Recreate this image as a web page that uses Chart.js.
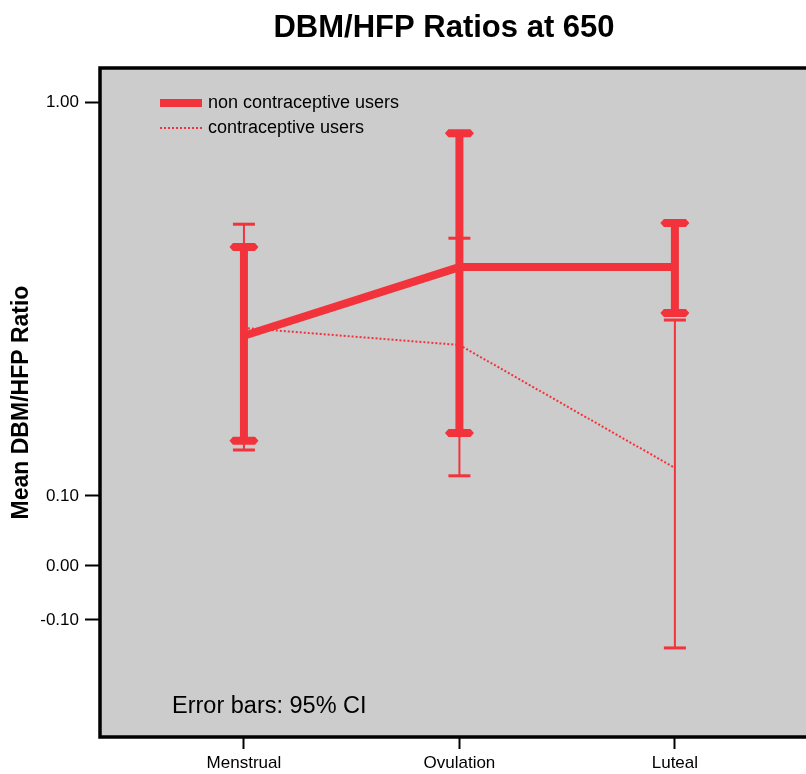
<!DOCTYPE html>
<html>
<head>
<meta charset="utf-8">
<script src="https://cdn.jsdelivr.net/npm/chart.js@4.4.1/dist/chart.umd.min.js"></script>
<style>
html, body { margin: 0; padding: 0; background: #fff; overflow: hidden; }
#wrap { width: 806px; height: 774px; overflow: hidden; }
</style>
</head>
<body>
<div id="wrap"><canvas id="chart" width="888" height="774"></canvas></div>
<script>
let phases = ['Menstrual', 'Ovulation', 'Luteal'];
let yTicks = [-0.10, 0.00, 0.10, 1.00];

// non contraceptive users: mean and 95% CI
let nonUsersMean = [0.466, 0.623, 0.623];
let nonUsersLow  = [0.226, 0.244, 0.518];
let nonUsersHigh = [0.669, 0.929, 0.724];

// contraceptive users: mean and 95% CI
let usersMean = [0.484, 0.445, 0.164];
let usersLow  = [0.205, 0.146, -0.152];
let usersHigh = [0.721, 0.689, 0.502];

const RED = 'rgb(242,51,60)';
const FONT = '"Liberation Sans", Arial, sans-serif';

// axis with uneven spacing between its ticks (as in the original figure)
class BrokenScale extends Chart.LinearScale {
    fwd(v) {
        let vs = this.options.knots.values, ts = this.options.knots.stops;
        let i = 0;
        if (v >= vs[vs.length - 1]) i = vs.length - 2;
        else if (v > vs[0]) { while (v > vs[i + 1]) i++; }
        return ts[i] + (v - vs[i]) * (ts[i + 1] - ts[i]) / (vs[i + 1] - vs[i]);
    }
    inv(t) {
        let vs = this.options.knots.values, ts = this.options.knots.stops;
        let i = 0;
        if (t >= ts[ts.length - 1]) i = ts.length - 2;
        else if (t > ts[0]) { while (t > ts[i + 1]) i++; }
        return vs[i] + (t - ts[i]) * (vs[i + 1] - vs[i]) / (ts[i + 1] - ts[i]);
    }
    buildTicks() {
        return yTicks.map(v => ({ value: v }));
    }
    getPixelForValue(v) {
        let t0 = this.fwd(this.min), t1 = this.fwd(this.max);
        return this.getPixelForDecimal((this.fwd(v) - t0) / (t1 - t0));
    }
    getValueForPixel(p) {
        let t0 = this.fwd(this.min), t1 = this.fwd(this.max);
        return this.inv(t0 + this.getDecimalForPixel(p) * (t1 - t0));
    }
}
BrokenScale.id = 'broken';
BrokenScale.defaults = {};
Chart.register(BrokenScale);

let plotFrame = {
    id: 'plotFrame',
    beforeDraw(chart) {
        let a = chart.chartArea, ctx = chart.ctx;
        ctx.save();
        ctx.fillStyle = '#cccccc';
        ctx.fillRect(a.left, a.top, a.right - a.left, a.bottom - a.top);
        ctx.restore();
    },
    afterDraw(chart) {
        let a = chart.chartArea, ctx = chart.ctx;
        ctx.save();
        ctx.strokeStyle = '#000';
        ctx.lineWidth = 3.5;
        ctx.strokeRect(a.left, a.top, a.right - a.left - 4, a.bottom - a.top);

        // legend
        let ds = chart.data.datasets;
        let rows = [103, 128];
        ds.forEach((d, i) => {
            ctx.beginPath();
            ctx.strokeStyle = d.borderColor;
            ctx.lineWidth = d.borderWidth;
            ctx.setLineDash(d.borderDash || []);
            ctx.moveTo(160, rows[i]);
            ctx.lineTo(202, rows[i]);
            ctx.stroke();
            ctx.setLineDash([]);
            ctx.fillStyle = '#000';
            ctx.font = '18px ' + FONT;
            ctx.textBaseline = 'middle';
            ctx.fillText(d.label, 208, rows[i]);
        });

        ctx.font = '23.5px ' + FONT;
        ctx.textBaseline = 'alphabetic';
        ctx.fillText('Error bars: 95% CI', 172, 713);
        ctx.restore();
    }
};

let errorBars = {
    id: 'errorBars',
    afterDatasetsDraw(chart) {
        let ctx = chart.ctx, xs = chart.scales.x, ys = chart.scales.y;
        ctx.save();
        ctx.fillStyle = RED;
        ctx.strokeStyle = RED;
        chart.data.datasets.forEach(d => {
            d.ciLow.forEach((lo, i) => {
                let px = xs.getPixelForValue(i);
                let top = ys.getPixelForValue(d.ciHigh[i]);
                let bot = ys.getPixelForValue(lo);
                ctx.beginPath();
                ctx.lineWidth = d.stem;
                ctx.moveTo(px, top);
                ctx.lineTo(px, bot);
                ctx.stroke();
                [top, bot].forEach(cy => {
                    if (d.stem > 4) {
                        ctx.beginPath();
                        ctx.moveTo(px - 14.5, cy);
                        ctx.lineTo(px - 11, cy - 4);
                        ctx.lineTo(px + 11, cy - 4);
                        ctx.lineTo(px + 14.5, cy);
                        ctx.lineTo(px + 11, cy + 4);
                        ctx.lineTo(px - 11, cy + 4);
                        ctx.closePath();
                        ctx.fill();
                    } else {
                        ctx.fillRect(px - 11, cy - 1.5, 22, 3);
                    }
                });
            });
        });
        ctx.restore();
    }
};

function generateChart() {
    let context = document.getElementById('chart').getContext('2d');
    return new Chart(context, {
        type: 'line',
        data: {
            datasets: [{
                label: 'non contraceptive users',
                data: nonUsersMean.map((v, i) => ({ x: i, y: v })),
                ciLow: nonUsersLow,
                ciHigh: nonUsersHigh,
                stem: 8,
                borderColor: RED,
                borderWidth: 8,
                pointRadius: 0,
                tension: 0
            }, {
                label: 'contraceptive users',
                data: usersMean.map((v, i) => ({ x: i, y: v })),
                ciLow: usersLow,
                ciHigh: usersHigh,
                stem: 2,
                borderColor: RED,
                borderWidth: 2,
                borderDash: [2, 2],
                pointRadius: 0,
                tension: 0
            }]
        },
        options: {
            responsive: false,
            animation: false,
            events: [],
            layout: { padding: 0 },
            plugins: {
                legend: { display: false },
                tooltip: { enabled: false },
                title: {
                    display: true,
                    text: 'DBM/HFP Ratios at 650',
                    color: '#000',
                    font: { family: FONT, size: 31, weight: 'bold', lineHeight: 1.2 },
                    padding: { top: 10, bottom: 20.8 }
                }
            },
            scales: {
                x: {
                    type: 'linear',
                    min: -0.668,
                    max: 2.989,
                    afterBuildTicks: s => { s.ticks = phases.map((p, i) => ({ value: i })); },
                    afterFit: s => { s.height = 37; },
                    ticks: {
                        callback: v => phases[v],
                        color: '#000',
                        padding: 4,
                        font: { family: FONT, size: 17 },
                        maxRotation: 0
                    },
                    grid: { drawOnChartArea: false, tickLength: 12, tickWidth: 2, tickColor: '#000' },
                    border: { display: false }
                },
                y: {
                    type: 'broken',
                    min: -0.317,
                    max: 1.078,
                    knots: { values: [-0.1, 0, 0.1, 1.0], stops: [0, 54, 124, 518] },
                    afterFit: s => { s.width = 100; },
                    ticks: {
                        callback: v => v.toFixed(2),
                        color: '#000',
                        padding: 6,
                        font: { family: FONT, size: 17 }
                    },
                    grid: { drawOnChartArea: false, tickLength: 15, tickWidth: 2, tickColor: '#000' },
                    border: { display: false },
                    title: {
                        display: true,
                        text: 'Mean DBM/HFP Ratio',
                        color: '#000',
                        font: { family: FONT, size: 23, weight: 'bold', lineHeight: 1.2 },
                        padding: { top: 8, bottom: 0 }
                    }
                }
            }
        },
        plugins: [plotFrame, errorBars]
    });
}

generateChart();
</script>
</body>
</html>
